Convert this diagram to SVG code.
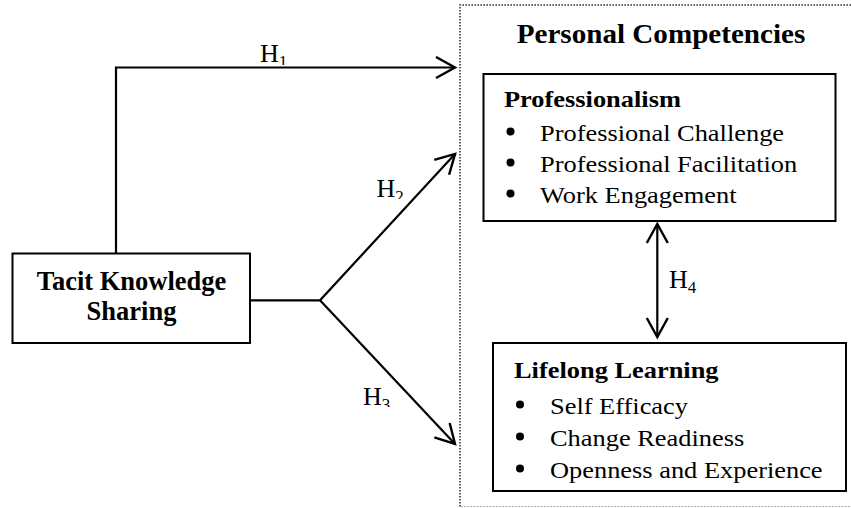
<svg xmlns="http://www.w3.org/2000/svg" width="851" height="508" viewBox="0 0 851 508">
  <style>
    .box { fill: #ffffff; stroke: #000000; stroke-width: 2; }
    .link { fill: none; stroke: #000000; stroke-width: 2.2; }
    .frame { fill: none; stroke: #333333; stroke-width: 1.6; stroke-dasharray: 1.6 1.4; }
    .frame-b { fill: none; stroke: #9a9a9a; stroke-width: 1.2; stroke-dasharray: 1.6 1.6; }
    .serif { font-family: "Liberation Serif", "Times New Roman", serif; fill: #000000; }
    .bold { font-weight: bold; }
    .h { font-size: 26px; }
    .sub { font-size: 17px; }
    .item { font-size: 24px; }
    .head { font-size: 24px; font-weight: bold; }
  </style>
  <defs>
    <marker id="open-arrow" markerUnits="userSpaceOnUse" viewBox="-21 -12 24 24" refX="0" refY="0" markerWidth="24" markerHeight="24" orient="auto-start-reverse">
      <path d="M -19 -10.5 L 0 0 L -19 10.5" fill="none" stroke="#000000" stroke-width="2.4" stroke-linejoin="miter"/>
    </marker>
    <clipPath id="clip-h1"><rect x="250" y="30" width="50" height="35"/></clipPath>
    <clipPath id="clip-h2"><rect x="365" y="165" width="50" height="34"/></clipPath>
    <clipPath id="clip-h3"><rect x="352" y="373" width="50" height="34"/></clipPath>
  </defs>

  <!-- dotted outline of the competencies group -->
  <g id="competencies-frame">
    <path class="frame" d="M 851 5 H 460 V 506.5"/>
    <path class="frame-b" d="M 461 506.5 H 851"/>
    <text class="serif bold" font-size="28" transform="translate(661,43) scale(1.04,1)" text-anchor="middle">Personal Competencies</text>
  </g>

  <!-- connectors -->
  <g id="connectors">
    <path class="link" d="M 116 253 V 67.5 H 455" marker-end="url(#open-arrow)"/>
    <path class="link" d="M 250 300.3 H 320 L 455 154"/>
    <path class="link" d="M 320 300.3 L 455 444" marker-end="url(#open-arrow)"/>
    <path class="link" d="M 455 154 L 455.1 153.9" marker-end="url(#open-arrow)"/>
    <path class="link" d="M 657.3 224 V 337" marker-start="url(#open-arrow)" marker-end="url(#open-arrow)"/>
    <g clip-path="url(#clip-h1)">
      <text class="serif h" x="260" y="62">H<tspan class="sub" dy="5">1</tspan></text>
    </g>
    <g clip-path="url(#clip-h2)">
      <text class="serif h" x="376.5" y="197">H<tspan class="sub" dy="5">2</tspan></text>
    </g>
    <g clip-path="url(#clip-h3)">
      <text class="serif h" x="363" y="405">H<tspan class="sub" dy="5">3</tspan></text>
    </g>
    <text class="serif h" x="669" y="288">H<tspan class="sub" dy="5">4</tspan></text>
  </g>

  <!-- source node -->
  <g id="tacit-knowledge-sharing">
    <rect class="box" x="12.5" y="253.5" width="237.5" height="89.5"/>
    <text class="serif bold" font-size="26.5" x="131.5" y="290" text-anchor="middle">Tacit Knowledge</text>
    <text class="serif bold" font-size="26.5" x="131.5" y="320" text-anchor="middle">Sharing</text>
  </g>

  <!-- professionalism node -->
  <g id="professionalism">
    <rect class="box" x="483.5" y="74" width="352" height="147"/>
    <text class="serif head" transform="translate(504,107) scale(1.1,1)">Professionalism</text>
    <circle cx="510.5" cy="131.5" r="4"/>
    <circle cx="510.5" cy="162.5" r="4"/>
    <circle cx="510.5" cy="193.5" r="4"/>
    <text class="serif item" transform="translate(540,141) scale(1.1,1)">Professional Challenge</text>
    <text class="serif item" transform="translate(540,172) scale(1.1,1)">Professional Facilitation</text>
    <text class="serif item" transform="translate(540,203) scale(1.1,1)">Work Engagement</text>
  </g>

  <!-- lifelong learning node -->
  <g id="lifelong-learning">
    <rect class="box" x="493" y="343" width="353" height="148"/>
    <text class="serif head" transform="translate(514,378) scale(1.1,1)">Lifelong Learning</text>
    <circle cx="520" cy="404.5" r="4"/>
    <circle cx="520" cy="436.5" r="4"/>
    <circle cx="520" cy="468.5" r="4"/>
    <text class="serif item" transform="translate(550,414) scale(1.1,1)">Self Efficacy</text>
    <text class="serif item" transform="translate(550,446) scale(1.1,1)">Change Readiness</text>
    <text class="serif item" transform="translate(550,478) scale(1.1,1)">Openness and Experience</text>
  </g>
</svg>
